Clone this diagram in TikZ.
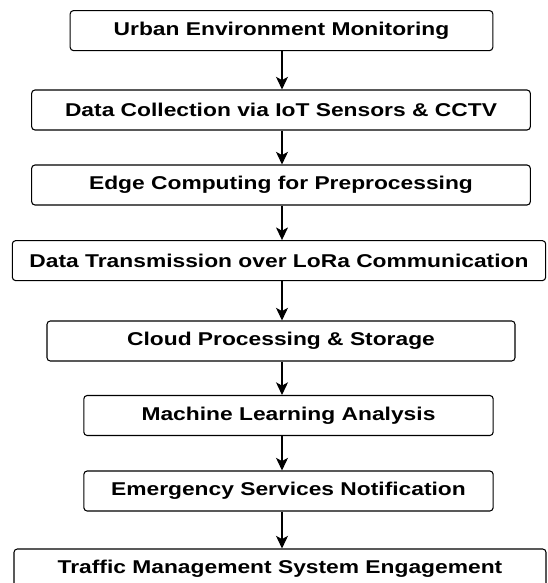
\documentclass[tikz,border=0pt]{standalone}
\usepackage{fontspec}
\newfontfamily\stagefont{Liberation Sans}[FakeStretch=1.23]
\usepackage{tikz}
\usetikzlibrary{arrows.meta}

\begin{document}
\begin{tikzpicture}[x=0.75pt,y=-0.75pt]
	\useasboundingbox (0,0) rectangle (548,583);
	\coordinate (spine) at (282,0);
	\begin{scope}[every node/.style = {draw, thick, rounded corners=2.5pt,
			minimum height=30pt, inner sep=0pt,
			font = \stagefont\bfseries\fontsize{13.9}{16}\selectfont}]
		\node[minimum width=317pt] (urban) at (281.5,30.6) {Urban Environment Monitoring};
		\node[minimum width=374pt] (collect) at (281,110) {Data Collection via IoT Sensors \& CCTV};
		\node[minimum width=374pt] (edge) at (281,185) {Edge Computing for Preprocessing};
		\node[minimum width=400pt] (lora) at (279,260.6) {Data Transmission over LoRa Communication};
		\node[minimum width=351pt] (cloud) at (281,341) {Cloud Processing \& Storage};
		\node[minimum width=307pt] (ml) at (288.5,415.5) {Machine Learning Analysis};
		\node[minimum width=307pt] (notify) at (288.5,491) {Emergency Services Notification};
		\node[minimum width=399pt] (traffic) at (280,569) {Traffic Management System Engagement};
	\end{scope}
	\begin{scope}[>={Stealth[length=9.5pt, width=9pt, inset=2.5pt]},
			every edge/.style={draw=black, thick}]
		\path [->] (urban.south -| spine) edge (collect.north -| spine);
		\path [->] (collect.south -| spine) edge (edge.north -| spine);
		\path [->] (edge.south -| spine) edge (lora.north -| spine);
		\path [->] (lora.south -| spine) edge (cloud.north -| spine);
		\path [->] (cloud.south -| spine) edge (ml.north -| spine);
		\path [->] (ml.south -| spine) edge (notify.north -| spine);
		\path [->] (notify.south -| spine) edge (traffic.north -| spine);
	\end{scope}
\end{tikzpicture}
\end{document}
